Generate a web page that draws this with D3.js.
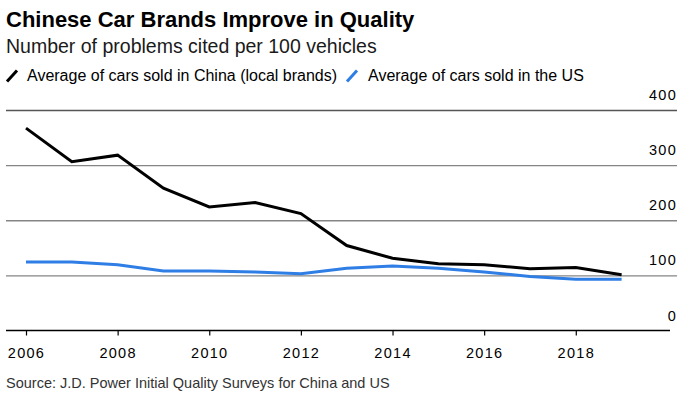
<!DOCTYPE html>
<html>
<head>
<meta charset="utf-8">
<script src="https://cdn.jsdelivr.net/npm/d3@7"></script>
<style>
    body { margin: 0; background: #fff; }
    text { font-family: "Liberation Sans", Arial, Helvetica, sans-serif; }
</style>
</head>
<body>
<div id="chart"></div>
<script>
let years = [2006, 2007, 2008, 2009, 2010, 2011, 2012, 2013, 2014, 2015, 2016, 2017, 2018, 2019];
let chinaLocal = [368, 307, 319, 259, 225, 233, 213, 155, 132, 122, 120, 113, 115, 102];
let usAverage = [125, 125, 120, 109, 109, 107, 104, 114, 118, 114, 107, 99, 94, 94];
let yTicks = [0, 100, 200, 300, 400];
let xTicks = [2006, 2008, 2010, 2012, 2014, 2016, 2018];
let seriesNames = ["Average of cars sold in China (local brands)", "Average of cars sold in the US"];
let seriesColors = ["#000000", "#2f7ee6"];

let width = 693, height = 395;

let svg = d3.select("#chart").append("svg")
    .attr("width", width)
    .attr("height", height)
    .attr("id", "main_svg");

let xScale = d3.scaleLinear()
    .domain([2006, 2019])
    .range([26, 621.6]);
let yScale = d3.scaleLinear()
    .domain([0, 400])
    .range([331, 110.5]);

// titles
svg.append("text")
    .attr("x", 6).attr("y", 26.7)
    .style("font-size", "22px").style("font-weight", "bold")
    .attr("fill", "#000")
    .text("Chinese Car Brands Improve in Quality");
svg.append("text")
    .attr("x", 6).attr("y", 53.3)
    .style("font-size", "19.5px")
    .attr("fill", "#1a1a1a")
    .text("Number of problems cited per 100 vehicles");

// legend
let legendX = [6, 346];
let legend = svg.append("g").classed("legend", true)
    .selectAll("g")
    .data(seriesNames)
    .enter().append("g")
    .attr("transform", (d, i) => "translate(" + legendX[i] + ",0)");
legend.append("line")
    .attr("x1", 1).attr("y1", 81.5)
    .attr("x2", 11).attr("y2", 70.5)
    .attr("stroke", (d, i) => seriesColors[i])
    .attr("stroke-width", 3);
legend.append("text")
    .attr("x", (d, i) => i === 0 ? 21 : 22)
    .attr("y", 80.7)
    .style("font-size", "16px")
    .attr("fill", "#000")
    .text(d => d);

// gridlines + y labels on the right
let gridGroup = svg.append("g").classed("gridGroup", true);
gridGroup.selectAll("line")
    .data(yTicks.filter(d => d > 0))
    .enter().append("line")
    .attr("x1", 6).attr("x2", 677)
    .attr("y1", d => yScale(d)).attr("y2", d => yScale(d))
    .attr("stroke", d => d === 400 ? "#555" : "#858585")
    .attr("stroke-width", 1.4);
gridGroup.selectAll("text")
    .data(yTicks)
    .enter().append("text")
    .attr("x", 677)
    .attr("y", d => yScale(d) - 10.5)
    .attr("text-anchor", "end")
    .style("font-size", "14.5px")
    .style("letter-spacing", "1.3px")
    .attr("fill", "#000")
    .text(d => d);

// x axis
let xAxisGroup = svg.append("g").classed("x-axis", true)
    .attr("transform", "translate(0,330.5)");
xAxisGroup.call(d3.axisBottom(xScale)
        .tickValues(xTicks)
        .tickFormat(d3.format("d"))
        .tickSize(5)
        .tickPadding(12))
    .call(g => g.select(".domain").remove());
xAxisGroup.append("line")
    .attr("x1", 6).attr("x2", 670)
    .attr("y1", 0).attr("y2", 0)
    .attr("stroke", "#000")
    .attr("stroke-width", 1.3);
xAxisGroup.selectAll(".tick line").attr("stroke", "#000").attr("stroke-width", 1.2);
xAxisGroup.selectAll(".tick text")
    .style("font-family", "'Liberation Sans', Arial, sans-serif")
    .style("font-size", "14.5px")
    .style("letter-spacing", "1.3px")
    .attr("fill", "#000");

// lines
let seriesData = [chinaLocal, usAverage];
let lineGenerator = d3.line()
    .x((d, i) => xScale(years[i]))
    .y(d => yScale(d));
svg.append("g").attr("id", "lineGroup")
    .selectAll("path")
    .data(seriesData)
    .enter().append("path")
    .attr("fill", "none")
    .attr("stroke", (d, i) => seriesColors[i])
    .attr("stroke-width", 3)
    .attr("d", d => lineGenerator(d));

// source
svg.append("text")
    .attr("x", 6).attr("y", 387.7)
    .style("font-size", "14.5px")
    .attr("fill", "#333")
    .text("Source: J.D. Power Initial Quality Surveys for China and US");
</script>
</body>
</html>
